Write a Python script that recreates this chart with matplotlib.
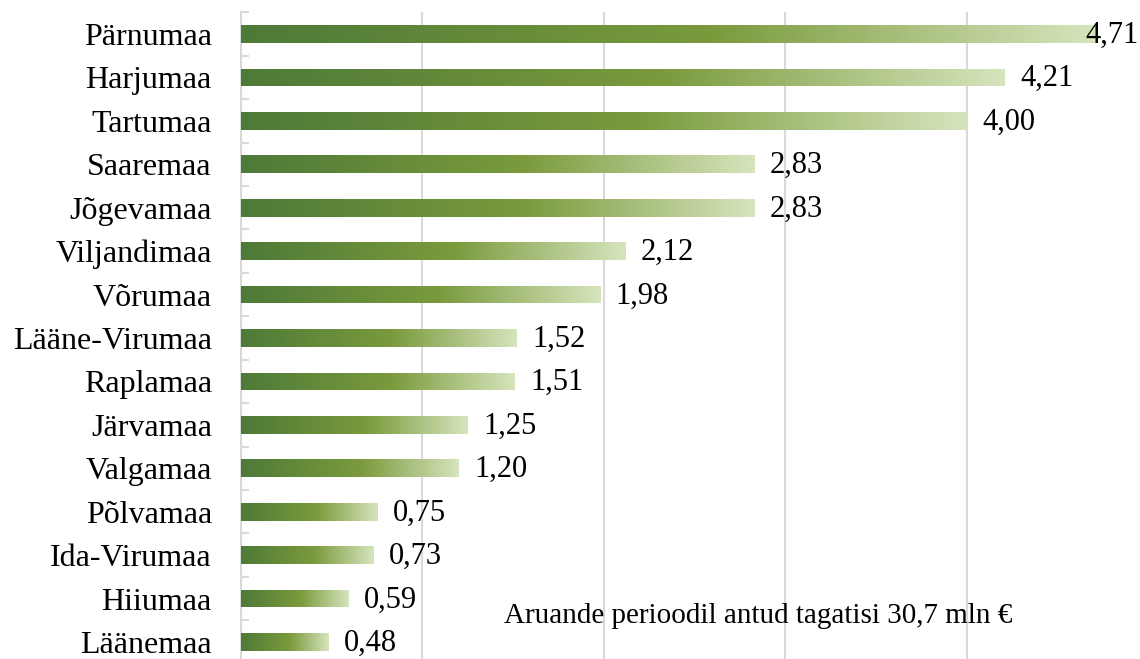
import numpy as np
import matplotlib.pyplot as plt
from matplotlib.colors import LinearSegmentedColormap

counties = ['Pärnumaa', 'Harjumaa', 'Tartumaa', 'Saaremaa', 'Jõgevamaa', 'Viljandimaa',
            'Võrumaa', 'Lääne-Virumaa', 'Raplamaa', 'Järvamaa', 'Valgamaa', 'Põlvamaa',
            'Ida-Virumaa', 'Hiiumaa', 'Läänemaa']
values = [4.71, 4.21, 4.00, 2.83, 2.83, 2.12, 1.98, 1.52, 1.51, 1.25, 1.20, 0.75, 0.73, 0.59, 0.48]
note = 'Aruande perioodil antud tagatisi 30,7 mln €'

plt.rcParams['font.family'] = ['Liberation Serif', 'DejaVu Serif']

cmap = LinearSegmentedColormap.from_list('grn', [(0.0, '#4e7a38'), (0.55, '#7a9a3c'), (1.0, '#d6e4bc')])
grad = np.linspace(0, 1, 256).reshape(1, -1)

fig = plt.figure(figsize=(11.4, 6.59), dpi=100)
ax = fig.add_axes([241 / 1140, -4.7 / 659, 1 - 241 / 1140, (659 - 12.3 + 4.7) / 659])

y = np.arange(len(counties))
bars = ax.barh(y, values, height=0.41, color='none', edgecolor='none', zorder=3)
for b in bars:
    x0, y0 = b.get_x(), b.get_y()
    im = ax.imshow(grad, cmap=cmap, aspect='auto', interpolation='bicubic',
                   extent=[x0, x0 + b.get_width(), y0, y0 + b.get_height()], zorder=3)
    im.set_clip_path(b)

xmax = 4.955
ax.set_xlim(0, xmax)
ax.set_ylim(len(counties) - 0.5, -0.5)

for yi, v in zip(y, values):
    txt = f'{v:.2f}'.replace('.', ',')
    if v + 0.5 > xmax:
        ax.text(xmax - 0.01, yi + 0.03, txt, ha='right', va='center', fontsize=22, zorder=5)
    else:
        ax.text(v + 0.085, yi + 0.03, txt, ha='left', va='center', fontsize=22, zorder=5)

ax.text(1.45, 13.4, note, ha='left', va='center', fontsize=21, zorder=5)

ax.set_xticks([1, 2, 3, 4])
ax.set_xticklabels([])
ax.tick_params(axis='x', length=0)
ax.grid(axis='x', color='#d9d9d9', linewidth=1.5, zorder=0)

ax.set_yticks(y)
ax.set_yticklabels(counties, fontsize=23)
ax.set_yticks(np.arange(-0.5, len(counties), 1), minor=True)
ax.tick_params(axis='y', which='major', length=0, pad=21)
ax.tick_params(axis='y', which='minor', direction='in', length=6, width=1.5, color='#d9d9d9')

for s in ['top', 'right', 'bottom']:
    ax.spines[s].set_visible(False)
ax.spines['left'].set_color('#d9d9d9')
ax.spines['left'].set_linewidth(1.5)

fig.savefig('out.png', dpi=100)
